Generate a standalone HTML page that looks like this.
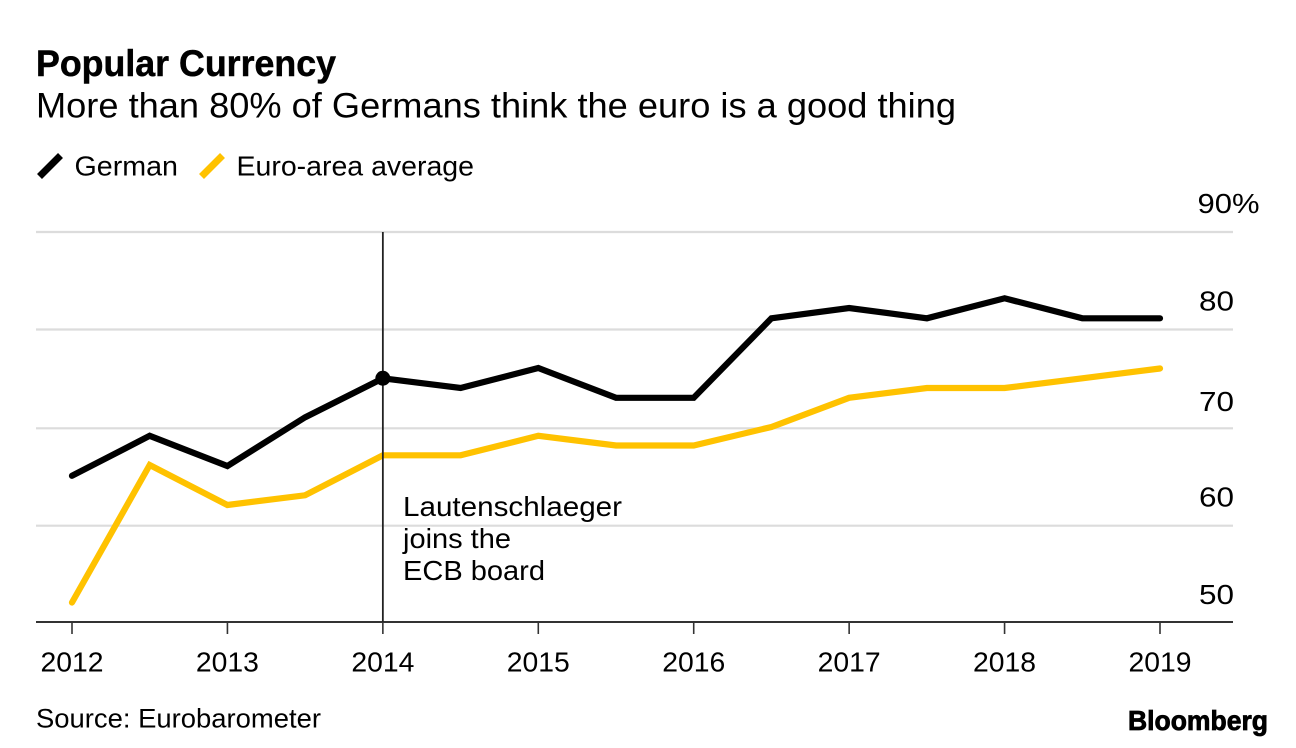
<!DOCTYPE html>
<html lang="en">
<head>
<meta charset="utf-8">
<title>Popular Currency</title>
<style>
html,body{margin:0;padding:0;background:#fff;width:1296px;height:748px;overflow:hidden}
svg{display:block}
text{font-family:"Liberation Sans",sans-serif;fill:#000}
</style>
</head>
<body>
<svg id="chart" width="1296" height="748" viewBox="0 0 1296 748" xmlns="http://www.w3.org/2000/svg">
<text x="36" y="76" font-size="37" font-weight="700" stroke="#000" stroke-width="0.5" textLength="300" lengthAdjust="spacingAndGlyphs">Popular Currency</text>
<text x="36" y="117.5" font-size="35" textLength="920" lengthAdjust="spacingAndGlyphs">More than 80% of Germans think the euro is a good thing</text>
<line x1="39.5" y1="176.5" x2="60.5" y2="155.5" stroke="#000" stroke-width="7"/>
<text x="74.5" y="175.5" font-size="28" textLength="103.5" lengthAdjust="spacingAndGlyphs">German</text>
<line x1="201.5" y1="176.5" x2="222.5" y2="155.5" stroke="#ffc200" stroke-width="7"/>
<text x="236.5" y="175.5" font-size="28" textLength="237.5" lengthAdjust="spacingAndGlyphs">Euro-area average</text>
<g id="grid"></g>
<g id="yLabels"></g>
<line id="xAxis" stroke="#333" stroke-width="2"/>
<g id="xTicks"></g>
<path id="euroLine" fill="none" stroke="#ffc200" stroke-width="6.2" stroke-linejoin="miter" stroke-linecap="round"/>
<path id="germanLine" fill="none" stroke="#000" stroke-width="6.2" stroke-linejoin="miter" stroke-linecap="round"/>
<line id="eventLine" stroke="#222" stroke-width="1.8"/>
<circle id="eventDot" r="7.5" fill="#000"/>
<text font-size="28" stroke="#fff" stroke-width="2.5" paint-order="stroke">
<tspan x="403" y="516" textLength="219" lengthAdjust="spacingAndGlyphs">Lautenschlaeger</tspan>
<tspan x="403" y="548" textLength="108" lengthAdjust="spacingAndGlyphs">joins the</tspan>
<tspan x="403" y="580" textLength="142" lengthAdjust="spacingAndGlyphs">ECB board</tspan>
</text>
<text x="36" y="727.5" font-size="26.5" textLength="285" lengthAdjust="spacingAndGlyphs">Source: Eurobarometer</text>
<text x="1128" y="730" font-size="28" font-weight="700" stroke="#000" stroke-width="0.8" textLength="140" lengthAdjust="spacingAndGlyphs">Bloomberg</text>
</svg>
<script>
const yearLabels = ['2012','2013','2014','2015','2016','2017','2018','2019'];
const periods = [2012,2012.5,2013,2013.5,2014,2014.5,2015,2015.5,2016,2016.5,2017,2017.5,2018,2018.5,2019];
const germanValues = [65,69.1,66,71,75,74,76.05,73,73,81.15,82.2,81.15,83.2,81.15,81.15];
const euroValues = [52,66.1,62,63,67.1,67.1,69.1,68.1,68.1,70,73,74,74,75,76];
const yTicks = [90,80,70,60,50];
const eventPeriod = 2014;
const eventValue = 75;

const NS = 'http://www.w3.org/2000/svg';
function xScale(v){ return 72 + (v - 2012) * (1160 - 72) / 7; }
function yScale(v){ return 622 - (v - 50) * (622 - 232) / 40; }
function gridY(t){
  if (t === 70) return yScale(t) + 1.3;
  if (t === 60) return yScale(t) + 1.2;
  return yScale(t);
}
function labelY(t){
  if (t === 70) return gridY(t) - 17.3;
  if (t === 50) return gridY(t) - 18;
  return gridY(t) - 19;
}
function make(tag, attrs, parent, txt){
  const el = document.createElementNS(NS, tag);
  for (const k in attrs) el.setAttribute(k, attrs[k]);
  if (txt !== undefined) el.textContent = txt;
  parent.appendChild(el);
  return el;
}
function linePath(xs, ys){
  return xs.map((p, i) => (i ? 'L' : 'M') + xScale(p).toFixed(1) + ' ' + yScale(ys[i]).toFixed(1)).join(' ');
}
const grid = document.getElementById('grid');
const yLabels = document.getElementById('yLabels');
yTicks.forEach(t => {
  if (t !== 50) {
    const g = make('line', {x1:36, x2:1233, y1:gridY(t), y2:gridY(t), stroke:'#dcdcdc', 'stroke-width':2.2}, grid);
    
    
  }
  const lab = make('text', {x: t === 90 ? 1197.5 : 1199, y:labelY(t), 'font-size':28, textLength: t === 90 ? 62 : 35, lengthAdjust:'spacingAndGlyphs'}, yLabels, t === 90 ? t + '%' : String(t));
  
  
});
const axis = document.getElementById('xAxis');
axis.setAttribute('x1', 36);
axis.setAttribute('x2', 1233);
axis.setAttribute('y1', yScale(50));
axis.setAttribute('y2', yScale(50));
const xTicks = document.getElementById('xTicks');
yearLabels.forEach(y => {
  const px = xScale(Number(y));
  const tick = make('line', {x1:px, x2:px, y1:yScale(50), y2:yScale(50) + 12, stroke:'#333', 'stroke-width':1.6}, xTicks);
  
  
  const lab = make('text', {x:px - 31.5, y:671.7, 'font-size':28, textLength:63, lengthAdjust:'spacingAndGlyphs'}, xTicks, y);
  
  
});
document.getElementById('germanLine').setAttribute('d', linePath(periods, germanValues));
document.getElementById('euroLine').setAttribute('d', linePath(periods, euroValues));
const ev = document.getElementById('eventLine');
ev.setAttribute('x1', xScale(eventPeriod));
ev.setAttribute('x2', xScale(eventPeriod));
ev.setAttribute('y1', yScale(90));
ev.setAttribute('y2', yScale(50));
const dot = document.getElementById('eventDot');
dot.setAttribute('cx', xScale(eventPeriod));
dot.setAttribute('cy', yScale(eventValue));
</script>
</body>
</html>
